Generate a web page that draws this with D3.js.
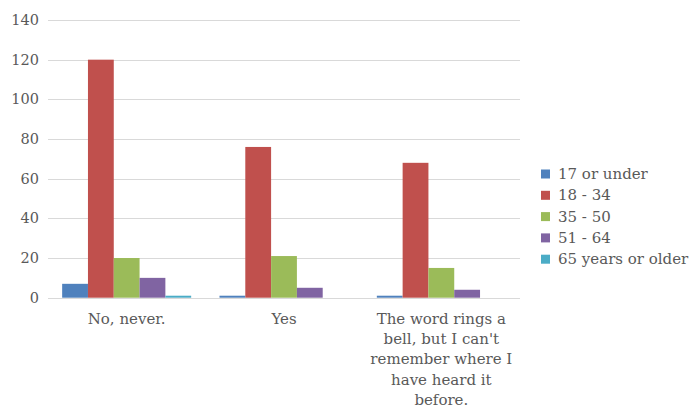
<!DOCTYPE html>
<html><head><meta charset="utf-8">
<script src="https://cdn.jsdelivr.net/npm/d3@7"></script>
<style>body{margin:0;background:#fff}</style>
</head><body>
<svg id="c" width="692" height="409"></svg>
<script>
const categories = ["No, never.", "Yes", "The word rings a bell, but I can't remember where I have heard it before."];
const categoryLines = [["No, never."], ["Yes"], ["The word rings a", "bell, but I can't", "remember where I", "have heard it", "before."]];
const seriesNames = ["17 or under", "18 - 34", "35 - 50", "51 - 64", "65 years or older"];
const s17 = [7, 1, 1];
const s18 = [120, 76, 68];
const s35 = [20, 21, 15];
const s51 = [10, 5, 4];
const s65 = [1, 0, 0];
const colors = ["#4F81BD", "#C0504D", "#9BBB59", "#8064A2", "#4BACC6"];
const yTicks = [0, 20, 40, 60, 80, 100, 120, 140];

const seriesValues = [s17, s18, s35, s51, s65];
const svg = d3.select("#c");
const font = "'DejaVu Serif', serif";
const textColor = "#595959";
const plotLeft = 48, plotRight = 520, plotTop = 20, plotBottom = 297.7;

const y = d3.scaleLinear().domain([0, 140]).range([plotBottom, plotTop]);
const x0 = d3.scaleBand().domain(categories).range([plotLeft, plotRight]).paddingInner(0.18).paddingOuter(0.09);
const x1 = d3.scaleBand().domain(seriesNames).range([0, x0.bandwidth()]);

// gridlines
svg.append("g").selectAll("line").data(yTicks.filter(d => d > 0)).join("line")
  .attr("x1", plotLeft).attr("x2", plotRight)
  .attr("y1", d => Math.round(y(d)) + 0.5).attr("y2", d => Math.round(y(d)) + 0.5)
  .attr("stroke", "#D9D9D9").attr("stroke-width", 1);

// y axis labels
const yAxis = d3.axisLeft(y).tickValues(yTicks).tickSize(0).tickPadding(9);
const gy = svg.append("g").attr("transform", `translate(${plotLeft},0)`).call(yAxis);
gy.select(".domain").remove();
gy.selectAll("text").attr("font-family", font).attr("font-size", 14.5).attr("fill", textColor);

// bars
const groups = svg.append("g").selectAll("g").data(categories).join("g")
  .attr("transform", d => `translate(${x0(d)},0)`);
groups.selectAll("rect").data((d, i) => seriesNames.map((s, j) => ({s, v: seriesValues[j][i], j})))
  .join("rect")
  .attr("x", d => x1(d.s)).attr("width", x1.bandwidth())
  .attr("y", d => y(d.v)).attr("height", d => plotBottom - y(d.v))
  .attr("fill", d => colors[d.j]);

// baseline
svg.append("line").attr("x1", plotLeft).attr("x2", plotRight)
  .attr("y1", Math.round(plotBottom) + 0.5).attr("y2", Math.round(plotBottom) + 0.5)
  .attr("stroke", "#D9D9D9").attr("stroke-width", 1);

// category labels
const catG = svg.append("g");
categories.forEach((c, i) => {
  const cx = x0(c) + x0.bandwidth() / 2;
  const t = catG.append("text")
    .attr("x", cx).attr("y", 324)
    .attr("text-anchor", "middle").attr("font-family", font).attr("font-size", 15).attr("fill", textColor);
  categoryLines[i].forEach((ln, k) => {
    t.append("tspan").attr("x", cx).attr("dy", k === 0 ? 0 : 20.2).text(ln);
  });
});

// legend
const lg = svg.append("g").attr("transform", "translate(541,169.5)");
seriesNames.forEach((s, i) => {
  const row = lg.append("g").attr("transform", `translate(0,${i * 21.3})`);
  row.append("rect").attr("width", 9).attr("height", 9).attr("fill", colors[i]);
  row.append("text").attr("x", 17).attr("y", 9.5).attr("font-family", font).attr("font-size", 15)
    .attr("fill", textColor).text(s);
});
</script>
</body></html>
